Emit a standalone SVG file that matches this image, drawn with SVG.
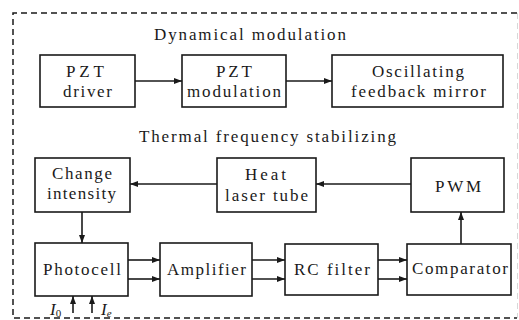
<svg xmlns="http://www.w3.org/2000/svg" width="519" height="320" viewBox="0 0 519 320">
<style>
.box{fill:#fff;stroke:#1a1a1a;stroke-width:1.6}
.t{font-family:'Liberation Serif','DejaVu Serif',serif;font-size:17px;fill:#1a1a1a}
.c{stroke:#1a1a1a;stroke-width:1.6;fill:none}
.border{fill:none;stroke:#1a1a1a;stroke-width:1.5;stroke-dasharray:6 4}
</style>
<defs>
<marker id="ah" markerWidth="8" markerHeight="6" refX="8" refY="3" orient="auto" markerUnits="userSpaceOnUse">
<path d="M0,0 L8,3 L0,6 Z" fill="#1a1a1a"/>
</marker>
</defs>
<rect width="519" height="320" fill="#fff"/>
<path class="border" d="M517,13 H13 V318 H517"/>
<path d="M517.5,13 V318" fill="none" stroke="#d8d8d8" stroke-width="1" stroke-dasharray="6 4"/>

<text class="t" x="154" y="40" textLength="192" lengthAdjust="spacing">Dynamical modulation</text>
<text class="t" x="139" y="142" textLength="257" lengthAdjust="spacing">Thermal frequency stabilizing</text>

<g id="pzt-driver">
<rect class="box" x="40" y="55" width="95" height="52"/>
<text class="t" x="66" y="77" textLength="38" lengthAdjust="spacing">PZT</text>
<text class="t" x="63" y="97" textLength="49" lengthAdjust="spacing">driver</text>
</g>
<g id="pzt-modulation">
<rect class="box" x="182" y="55" width="104" height="52"/>
<text class="t" x="216" y="77" textLength="36" lengthAdjust="spacing">PZT</text>
<text class="t" x="187" y="97" textLength="94" lengthAdjust="spacing">modulation</text>
</g>
<g id="oscillating-mirror">
<rect class="box" x="332" y="55" width="171" height="52"/>
<text class="t" x="372" y="77" textLength="92" lengthAdjust="spacing">Oscillating</text>
<text class="t" x="351" y="97" textLength="135" lengthAdjust="spacing">feedback mirror</text>
</g>

<g id="change-intensity">
<rect class="box" x="35" y="158" width="95" height="54"/>
<text class="t" x="52" y="179" textLength="60" lengthAdjust="spacing">Change</text>
<text class="t" x="47" y="199" textLength="69" lengthAdjust="spacing">intensity</text>
</g>
<g id="heat-laser-tube">
<rect class="box" x="217" y="158" width="99" height="54"/>
<text class="t" x="245" y="180" textLength="41" lengthAdjust="spacing">Heat</text>
<text class="t" x="225" y="201" textLength="83" lengthAdjust="spacing">laser tube</text>
</g>
<g id="pwm">
<rect class="box" x="411" y="158" width="93" height="54"/>
<text class="t" x="435" y="192" textLength="46" lengthAdjust="spacing">PWM</text>
</g>

<g id="photocell">
<rect class="box" x="35" y="243" width="93" height="53"/>
<text class="t" x="43" y="275" textLength="78" lengthAdjust="spacing">Photocell</text>
</g>
<g id="amplifier">
<rect class="box" x="160" y="243" width="92" height="53"/>
<text class="t" x="167" y="275" textLength="79" lengthAdjust="spacing">Amplifier</text>
</g>
<g id="rc-filter">
<rect class="box" x="285" y="244" width="93" height="51"/>
<text class="t" x="294" y="275" textLength="76" lengthAdjust="spacing">RC filter</text>
</g>
<g id="comparator">
<rect class="box" x="407" y="244" width="104" height="51"/>
<text class="t" x="412" y="274" textLength="96" lengthAdjust="spacing">Comparator</text>
</g>

<g id="inputs">
<text class="t" x="50" y="315" font-style="italic">I<tspan font-size="11" font-style="normal" dy="2">0</tspan></text>
<text class="t" x="101" y="315" font-style="italic">I<tspan font-size="11" dy="2">e</tspan></text>
</g>

<g id="connectors">
<line class="c" x1="135" y1="81" x2="182" y2="81" marker-end="url(#ah)"/>
<line class="c" x1="286" y1="81" x2="332" y2="81" marker-end="url(#ah)"/>
<line class="c" x1="411" y1="184" x2="316" y2="184" marker-end="url(#ah)"/>
<line class="c" x1="217" y1="184" x2="130" y2="184" marker-end="url(#ah)"/>
<line class="c" x1="82" y1="212" x2="82" y2="243" marker-end="url(#ah)"/>
<line class="c" x1="461" y1="244" x2="461" y2="212" marker-end="url(#ah)"/>
<line class="c" x1="128" y1="260" x2="160" y2="260" marker-end="url(#ah)"/>
<line class="c" x1="128" y1="279" x2="160" y2="279" marker-end="url(#ah)"/>
<line class="c" x1="252" y1="260" x2="285" y2="260" marker-end="url(#ah)"/>
<line class="c" x1="252" y1="279" x2="285" y2="279" marker-end="url(#ah)"/>
<line class="c" x1="378" y1="260" x2="407" y2="260" marker-end="url(#ah)"/>
<line class="c" x1="378" y1="279" x2="407" y2="279" marker-end="url(#ah)"/>
<line class="c" x1="73" y1="313" x2="73" y2="296" marker-end="url(#ah)"/>
<line class="c" x1="92" y1="313" x2="92" y2="296" marker-end="url(#ah)"/>
</g>
</svg>
